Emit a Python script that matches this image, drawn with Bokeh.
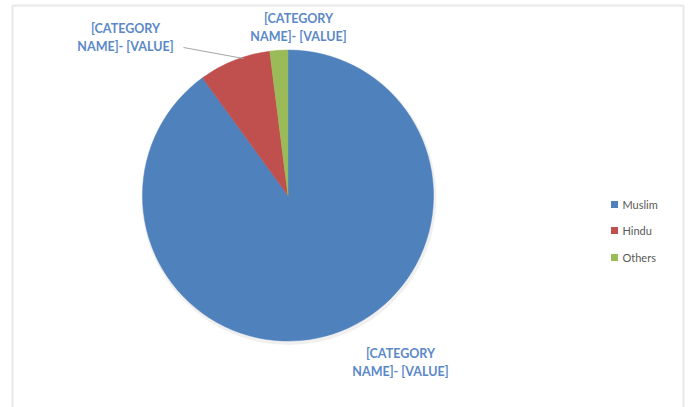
import math
from bokeh.plotting import figure
from bokeh.models import Range1d, ColumnDataSource
from bokeh.core.properties import value
from bokeh.embed import file_html
from bokeh.resources import INLINE

# data
categories = ["Muslim", "Hindu", "Others"]
shares = [90.0, 8.0, 2.0]
colors = ["#4F81BD", "#C0504D", "#9BBB59"]
label_text = "[CATEGORY\nNAME]- [VALUE]"

W, H = 688, 407

def Y(py):
    return H - py

p = figure(width=W, height=H, output_backend="svg", toolbar_location=None,
           x_range=Range1d(0, W), y_range=Range1d(0, H),
           min_border=0)
p.axis.visible = False
p.grid.visible = False
p.outline_line_color = None
p.background_fill_color = "white"
p.border_fill_color = "white"

# chart-area border (light)
p.line(x=[12, 12, 683, 683], y=[Y(407), Y(5), Y(5), Y(407)], line_color="#E8E8E8", line_width=2)

# pie
cx, cy, r = 287.5, Y(195), 145.5
total = sum(shares)
starts, ends = [], []
cum = 0.0
for s in shares:
    starts.append(math.pi / 2 - 2 * math.pi * cum / total)
    cum += s
    ends.append(math.pi / 2 - 2 * math.pi * cum / total)

# soft shadow
p.circle(x=[cx + 1], y=[cy - 2], radius=r + 2, fill_color="#000000", fill_alpha=0.06, line_color=None)

src = ColumnDataSource(dict(start=starts, end=ends, color=colors, cat=categories))
p.wedge(x=cx, y=cy, radius=r, start_angle="start", end_angle="end", direction="clock",
        fill_color="color", line_color="color", line_width=0.5, source=src)

# leader line for Hindu label
p.line(x=[183, 243], y=[Y(47), Y(58)], line_color="#A6A6A6", line_width=1)

# data labels
lab_x = [400, 125, 298]
lab_y = [Y(362), Y(37), Y(27)]
p.text(x=lab_x, y=lab_y, text=[label_text] * 3, text_align="center", text_baseline="middle",
       text_font=value("Lato"), text_font_style="bold", text_font_size="12.5px",
       text_color="#5A88C8", text_line_height=1.25)

# legend
leg_y = [Y(204), Y(230), Y(257)]
p.scatter(x=[614] * 3, y=leg_y, marker="square", size=7, fill_color=colors, line_color=None)
p.text(x=[622] * 3, y=leg_y, text=categories, text_align="left", text_baseline="middle",
       text_font=value("Lato"), text_font_size="11px", text_color="#595959")

open("out.html", "w").write(file_html(p, INLINE))
